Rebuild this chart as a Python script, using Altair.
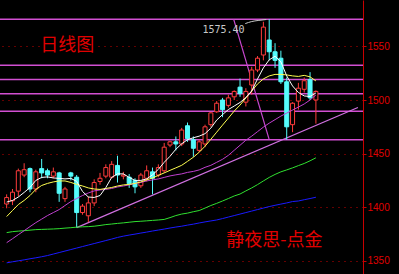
import altair as alt
import pandas as pd

# Daily candles (index = trading day)
opens = [1403, 1406, 1415, 1430, 1436, 1417, 1436, 1434, 1429, 1432,
         1408, 1432, 1428, 1395, 1392, 1404, 1424, 1429, 1428, 1439,
         1429, 1428, 1425, 1420, 1427, 1433, 1430, 1434, 1458, 1461,
         1459, 1476, 1463, 1453, 1459, 1477, 1489, 1500, 1495, 1503,
         1512, 1498, 1514, 1528, 1542, 1556, 1545, 1539, 1517, 1477,
         1499, 1510, 1519, 1500]
highs = [1412, 1417, 1436, 1441, 1437, 1435, 1445, 1436, 1437, 1433,
         1419, 1433, 1430, 1403, 1410, 1426, 1432, 1440, 1443, 1448,
         1433, 1431, 1427, 1432, 1439, 1437, 1440, 1460, 1462, 1466,
         1474, 1479, 1466, 1463, 1477, 1489, 1499, 1502, 1505, 1509,
         1520, 1511, 1531, 1541, 1573, 1575.4, 1553, 1546, 1521, 1498,
         1516, 1521, 1526, 1509]
lows = [1399, 1402, 1410, 1428, 1414, 1414, 1427, 1427, 1427, 1405,
        1405, 1425, 1381, 1393, 1386, 1401, 1421, 1427, 1427, 1423,
        1426, 1418, 1413, 1418, 1424, 1412, 1428, 1432, 1456, 1453,
        1457, 1461, 1447, 1451, 1456, 1475, 1488, 1484, 1493, 1500,
        1503, 1494, 1505, 1526, 1537, 1537, 1530, 1515, 1463, 1470,
        1491, 1507, 1500, 1478]
closes = [1409, 1414, 1434, 1435, 1417, 1433, 1432, 1430, 1433, 1413,
          1417, 1429, 1395, 1401, 1404, 1423, 1427, 1437, 1440, 1430,
          1430, 1422, 1419, 1430, 1434, 1427, 1437, 1456, 1461, 1459,
          1472, 1464, 1455, 1461, 1475, 1488, 1497, 1491, 1502, 1508,
          1506, 1508, 1528, 1539, 1568, 1545, 1537, 1517, 1475, 1497,
          1511, 1518, 1502, 1508]

# Moving averages, one value per day
ma_white = [1404.8, 1406.3, 1409.5, 1413.8, 1418.4, 1425.0, 1427.8, 1428.3, 1427.3, 1426.9,
            1426.4, 1426.9, 1424.1, 1414.7, 1409.5, 1409.1, 1410.9, 1418.4, 1427.8, 1431.1,
            1431.1, 1427.8, 1425.0, 1425.0, 1426.4, 1430.2, 1435.3, 1441.9, 1447.5, 1454.1,
            1459.2, 1463.0, 1464.8, 1466.3, 1468.6, 1473.8, 1481.3, 1486.4, 1491.1, 1494.4,
            1497.7, 1502.3, 1508.4, 1519.7, 1530.0, 1537.5, 1540.8, 1535.6, 1522.5, 1513.1,
            1507.0, 1503.8, 1503.3, 1506.6]
ma_yellow = [1391.3, 1396.9, 1402.5, 1406.3, 1410.9, 1416.6, 1420.3, 1422.2, 1423.6, 1424.5,
             1424.5, 1423.1, 1421.3, 1419.8, 1418.0, 1417.0, 1416.6, 1417.5, 1418.4, 1419.8,
             1420.8, 1421.3, 1422.2, 1423.6, 1425.5, 1427.3, 1429.7, 1432.0, 1434.4, 1436.7,
             1439.1, 1442.8, 1446.6, 1451.3, 1456.9, 1463.4, 1470.0, 1476.6, 1483.1, 1489.7,
             1495.3, 1501.9, 1508.4, 1515.0, 1519.7, 1522.5, 1523.9, 1523.9, 1523.4, 1522.5,
             1522.0, 1523.0, 1521.6, 1517.8]
ma_violet = [1366.9, 1370.6, 1374.4, 1378.1, 1381.9, 1385.6, 1388.9, 1392.2, 1395.0, 1397.8,
             1401.6, 1405.3, 1408.1, 1410.9, 1413.3, 1415.2, 1416.1, 1416.6, 1417.5, 1418.9,
             1419.8, 1420.8, 1422.2, 1423.1, 1424.5, 1425.5, 1426.4, 1427.8, 1429.2, 1430.2,
             1431.1, 1432.5, 1433.4, 1434.8, 1437.2, 1439.1, 1441.9, 1444.7, 1448.4, 1453.1,
             1457.8, 1462.5, 1466.3, 1470.5, 1474.7, 1478.4, 1481.7, 1485.0, 1487.8, 1490.6,
             1493.4, 1496.3, 1500.0, 1504.7]
ma_green = [1376.3, 1377.2, 1377.7, 1378.1, 1378.6, 1379.1, 1379.3, 1379.5, 1379.7, 1380.0,
            1380.5, 1380.9, 1381.4, 1381.7, 1381.9, 1382.3, 1383.0, 1383.8, 1384.3, 1384.9,
            1385.4, 1386.0, 1386.6, 1386.9, 1387.3, 1387.7, 1388.1, 1388.6, 1390.3, 1392.2,
            1393.6, 1394.5, 1395.8, 1396.9, 1399.2, 1401.6, 1403.6, 1405.8, 1408.1, 1410.5,
            1412.3, 1415.2, 1418.0, 1421.1, 1424.5, 1427.8, 1430.6, 1433.0, 1434.8, 1436.7,
            1438.8, 1440.8, 1443.3, 1446.1]
ma_blue = [1348.1, 1349.1, 1350.0, 1350.9, 1351.9, 1352.8, 1353.8, 1354.9, 1356.3, 1357.7,
           1359.1, 1360.5, 1361.9, 1363.3, 1364.7, 1366.1, 1367.5, 1368.9, 1370.3, 1371.8,
           1373.0, 1374.0, 1374.9, 1375.9, 1376.8, 1377.8, 1378.7, 1379.6, 1380.6, 1381.5,
           1382.3, 1383.3, 1384.2, 1385.3, 1386.3, 1387.2, 1388.1, 1389.4, 1390.8, 1392.2,
           1393.6, 1395.0, 1396.4, 1397.8, 1399.2, 1400.6, 1401.8, 1402.9, 1404.0, 1405.3,
           1405.8, 1407.0, 1408.1, 1409.3]

# Fibonacci retracement levels between the 1575.40 high and the 1463 low
fib_levels = [1575.4, 1532.5, 1519.2, 1505.9, 1489.5, 1463.0]
# Support trendline through the swing low
trend_k = [12, 60.2]
trend_v = [1381, 1493]
# Diagonal of the retracement tool
fib_diag_k = [38.9, 45.0]
fib_diag_v = [1575.4, 1463.0]
# Leader from the high label to the high
leader_k = [40.9, 42.0, 43.1, 44.5]
leader_v = [1571.3, 1573.2, 1574.2, 1575.1]

tick_values = [1350, 1400, 1450, 1500, 1550]

RED = "#ff3c3c"
CYAN = "#54fcfc"
AXIS_RED = "#c80000"

n = len(opens)
candles = pd.DataFrame({
    "k": list(range(n)),
    "open": opens, "high": highs, "low": lows, "close": closes,
})
candles["dir"] = ["up" if c >= o else "down" for o, c in zip(opens, closes)]

xscale = alt.Scale(domain=[-0.283, 60.217], nice=False, zero=False)
yscale = alt.Scale(domain=[1337.7, 1593.3], nice=False, zero=False)
yaxis = alt.Axis(orient="right", values=tick_values, format="d", grid=True,
                 gridColor=AXIS_RED, gridDash=[1, 5], gridWidth=1,
                 domainColor=AXIS_RED, tickColor=AXIS_RED, tickSize=3,
                 labelColor="#e00000", labelFont="Liberation Sans",
                 labelFontSize=10, labelPadding=1, title=None)


def X(field="k:Q"):
    return alt.X(field, scale=xscale, axis=None)


def Y(field):
    return alt.Y(field, scale=yscale, axis=yaxis)


stroke_scale = alt.Scale(domain=["up", "down"], range=[RED, CYAN])
fill_scale = alt.Scale(domain=["up", "down"], range=["#000000", CYAN])

fib_layer = alt.Chart(pd.DataFrame({"v": fib_levels})).mark_rule(
    color="#d24fd2", strokeWidth=1.4
).encode(y=Y("v:Q"))

trend_layer = alt.Chart(pd.DataFrame({"k": trend_k, "v": trend_v})).mark_line(
    color="#d070e0", strokeWidth=1.2, clip=True
).encode(x=X(), y=Y("v:Q"))

diag_layer = alt.Chart(pd.DataFrame({"k": fib_diag_k, "v": fib_diag_v})).mark_line(
    color="#c848d0", strokeWidth=1.2
).encode(x=X(), y=Y("v:Q"))

wicks = alt.Chart(candles).mark_rule(strokeWidth=1).encode(
    x=X(), y=Y("low:Q"), y2="high:Q",
    stroke=alt.Stroke("dir:N", scale=stroke_scale, legend=None),
)

bodies = alt.Chart(candles).mark_bar(size=4, strokeWidth=1).encode(
    x=X(), y=Y("open:Q"), y2="close:Q",
    fill=alt.Fill("dir:N", scale=fill_scale, legend=None),
    stroke=alt.Stroke("dir:N", scale=stroke_scale, legend=None),
)


def ma_line(values, colour):
    df = pd.DataFrame({"k": list(range(len(values))), "v": values})
    return alt.Chart(df).mark_line(color=colour, strokeWidth=1).encode(x=X(), y=Y("v:Q"))


ma_layers = [
    ma_line(ma_blue, "#1a1aff"),
    ma_line(ma_green, "#30e030"),
    ma_line(ma_violet, "#c040d0"),
    ma_line(ma_yellow, "#ffff50"),
    ma_line(ma_white, "#ffffff"),
]

leader_layer = alt.Chart(pd.DataFrame({"k": leader_k, "v": leader_v})).mark_line(
    color="#c8c8c8", strokeWidth=1, interpolate="monotone"
).encode(x=X(), y=Y("v:Q"))

high_label = alt.Chart(pd.DataFrame({"k": [33.55], "v": [1562.5], "t": ["1575.40"]})).mark_text(
    align="left", baseline="alphabetic", font="DejaVu Sans Mono", fontSize=10, color="#c8c8c8"
).encode(x=X(), y=Y("v:Q"), text="t:N")

title_box = alt.Chart(pd.DataFrame({"k": [6.0], "k2": [15.6], "v": [1541.5], "v2": [1559.5]})).mark_rect(
    color="#000000"
).encode(x=X(), x2="k2:Q", y=Y("v:Q"), y2="v2:Q")

title_text = alt.Chart(pd.DataFrame({"k": [10.4], "v": [1550.4], "t": ["日线图"]})).mark_text(
    align="center", baseline="middle", font="Noto Sans CJK SC", fontSize=18, color="#e00000"
).encode(x=X(), y=Y("v:Q"), text="t:N")

sign_text = alt.Chart(pd.DataFrame({"k": [45.9], "v": [1368.5], "t": ["静夜思-点金"]})).mark_text(
    align="center", baseline="middle", font="Noto Sans CJK SC", fontSize=18, color="#e00000"
).encode(x=X(), y=Y("v:Q"), text="t:N")

chart = alt.layer(
    fib_layer, trend_layer, diag_layer, wicks, bodies, *ma_layers,
    leader_layer, high_label, title_box, title_text, sign_text,
).properties(
    width=363, height=274,
    padding={"left": 0, "top": 0, "right": 36, "bottom": 0},
    autosize=alt.AutoSizeParams(type="none"),
    background="#000000",
).configure_view(stroke=None)

chart.save("out.html", embed_options={"renderer": "svg", "actions": False})
